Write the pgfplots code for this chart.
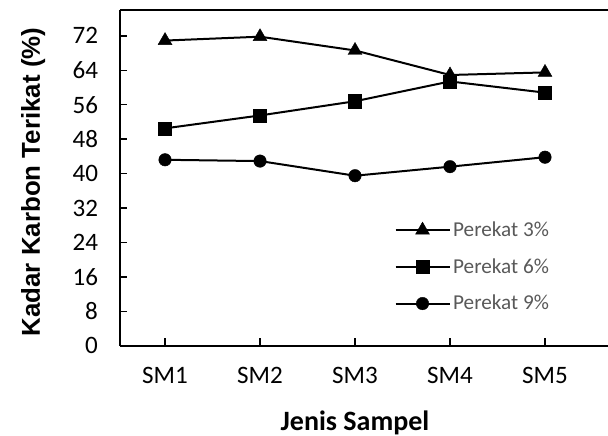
\documentclass[border=0pt]{standalone}
\usepackage{pgfplots}
\pgfplotsset{compat=1.18}
\usepackage{pgfplotstable}
\usepackage{fontspec}
\setmainfont{Carlito}
\newfontfamily\arialfont{Liberation Sans}
\definecolor{leggray}{RGB}{89,89,89}
\pgfplotstableread{
x y
1 70.9
2 71.8
3 68.6
4 62.9
5 63.5
}\pthree
\pgfplotstableread{
x y
1 50.5
2 53.5
3 56.8
4 61.4
5 58.8
}\psix
\pgfplotstableread{
x y
1 43.2
2 42.9
3 39.5
4 41.6
5 43.8
}\pnine
\begin{document}
\begin{tikzpicture}
\begin{axis}[
  scale only axis, width=366pt, height=251.8pt,
  xmin=0.526, xmax=5.663, ymin=0, ymax=78,
  axis x line*=box, axis y line*=left,
  xtick={1,2,3,4,5}, xticklabels={SM1,SM2,SM3,SM4,SM5},
  xtick pos=left,
  ytick={0,8,...,72},
  tick align=inside, major tick length=5.5pt,
  tick style={line width=1.1pt, black},
  axis line style={line width=1.6pt, black},
  /pgf/number format/assume math mode=true,
  ticklabel style={font=\fontsize{18.8pt}{20pt}\selectfont, black},
  yticklabel style={xshift=-13pt},
  xticklabel style={yshift=-12.8pt},
  xlabel={Jenis Sampel},
  xlabel style={at={(axis description cs:0.4816,-0.251)}, anchor=base, font=\fontsize{21pt}{24pt}\selectfont\bfseries},
  ylabel={\arialfont\bfseries Kadar Karbon Terikat (\%)},
  ylabel style={at={(axis description cs:-0.164,0.4877)}, anchor=base, rotate=0, font=\fontsize{19.4pt}{22pt}\selectfont},
  legend style={at={(axis description cs:0.562,0.378)}, anchor=north west, draw=none, fill=none,
    inner sep=0pt, row sep=11pt, column sep=0pt,
    nodes={inner sep=2pt},
    font=\fontsize{15.9pt}{17pt}\selectfont, text=leggray},
  legend cell align=left,
  legend image code/.code={\draw[mark repeat=2,mark phase=2,#1] plot coordinates {(0pt,0pt) (20.25pt,0pt) (40.5pt,0pt)};},
]
\addplot[black, line width=1.5pt, mark=triangle*, mark size=6pt, mark options={solid, line width=0.3pt}] table {\pthree};
\addlegendentry{Perekat 3\%}
\addplot[black, line width=1.5pt, mark=square*, mark size=5pt, mark options={solid, line width=0.3pt}] table {\psix};
\addlegendentry{Perekat 6\%}
\addplot[black, line width=1.5pt, mark=*, mark size=4.7pt, mark options={solid, line width=0.3pt}] table {\pnine};
\addlegendentry{Perekat 9\%}
\end{axis}
\pgfresetboundingbox
\path ([shift={(-90pt,-67pt)}]current axis.south west) rectangle ([shift={(0pt,7.5pt)}]current axis.north east);
\end{tikzpicture}
\end{document}
